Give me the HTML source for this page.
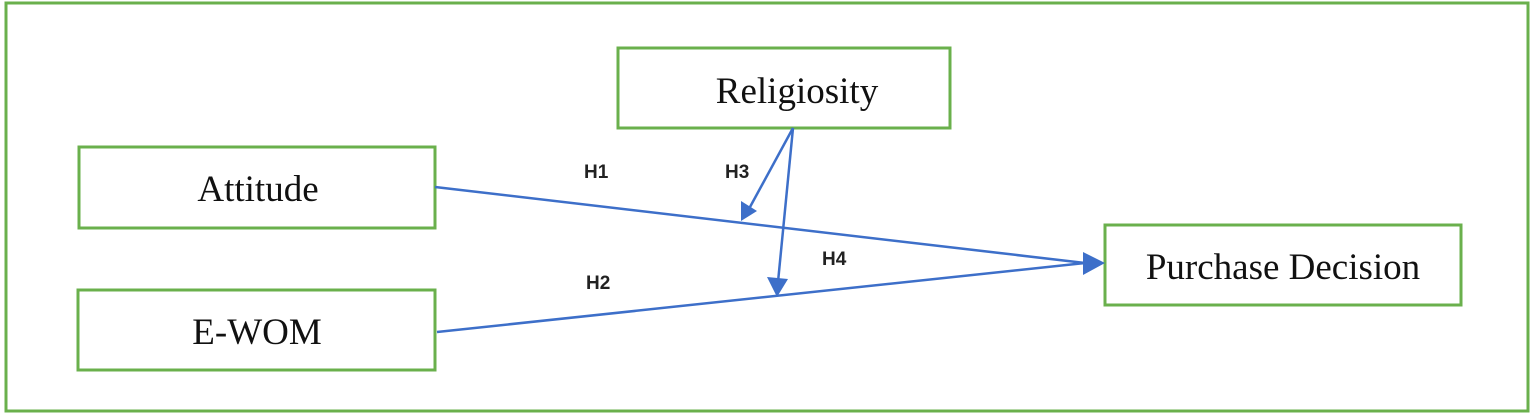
<!DOCTYPE html>
<html><head><meta charset="utf-8"><style>
body{margin:0;background:#fff;}
svg{display:block;}
</style></head><body>
<svg width="1535" height="418" viewBox="0 0 1535 418" xmlns="http://www.w3.org/2000/svg">
<rect x="6" y="3" width="1522" height="408" fill="none" stroke="#6ab04c" stroke-width="3"/>
<g fill="#fff" stroke="#6ab04c" stroke-width="3">
<rect x="79" y="147" width="356" height="81"/>
<rect x="78" y="290" width="357" height="80"/>
<rect x="618" y="48" width="332" height="80"/>
<rect x="1105" y="225" width="356" height="80"/>
</g>
<g font-family="Liberation Serif, serif" font-size="37" fill="#111" text-anchor="middle">
<text x="258" y="201">Attitude</text>
<text x="257" y="344">E-WOM</text>
<text x="797" y="103">Religiosity</text>
<text x="1283" y="279">Purchase Decision</text>
</g>
<g stroke="#3d6fc9" stroke-width="2.5" fill="none">
<line x1="435" y1="187" x2="1085" y2="263"/>
<line x1="437" y1="332" x2="1085" y2="263"/>
<line x1="793" y1="128" x2="750" y2="207"/>
<line x1="793" y1="128" x2="778" y2="282"/>
</g>
<g fill="#3d6fc9">
<polygon points="1105,263 1083,252 1083,275"/>
<polygon points="741,221 741,201 757,211"/>
<polygon points="777,297 767,277 788,279"/>
</g>
<g font-family="Liberation Sans, sans-serif" font-size="19" font-weight="bold" fill="#222">
<text x="584" y="178">H1</text>
<text x="725" y="178">H3</text>
<text x="822" y="265">H4</text>
<text x="586" y="289">H2</text>
</g>
</svg>
</body></html>
